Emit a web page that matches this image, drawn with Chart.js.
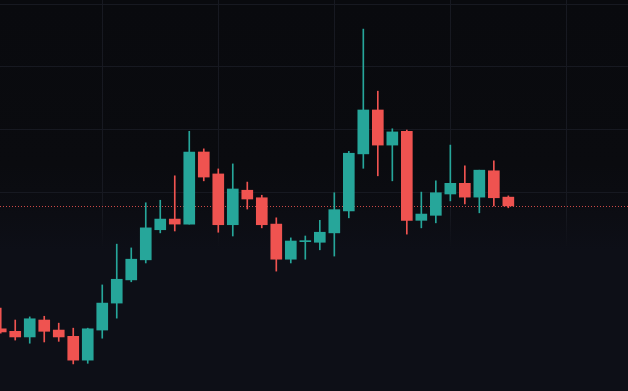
<!DOCTYPE html>
<html>
<head>
<meta charset="utf-8">
<script src="https://cdn.jsdelivr.net/npm/chart.js@4.4.1/dist/chart.umd.min.js"></script>
<style>
  html, body { margin: 0; padding: 0; }
  body {
    width: 628px;
    height: 391px;
    overflow: hidden;
    background: linear-gradient(to bottom, #090a0e 0%, #0a0b0f 42%, #0c0d13 55%, #0d0f17 64%, #0d0f17 100%);
  }
  .chart-container { position: relative; width: 628px; height: 391px; }
</style>
</head>
<body>
<div class="chart-container"><canvas id="chart"></canvas></div>
<script>
// candle data, one entry per bar
const opens  = [108.2, 107.8, 106.9, 109.6, 108.0, 107.0, 103.2, 108.0, 112.3, 116.0,
                119.2, 124.0, 125.7, 124.9, 136.4, 132.9, 124.8, 130.3, 129.1, 124.9,
                119.3, 122.1, 122.0, 123.5, 127.0, 136.1, 143.1, 137.5, 139.7, 125.5,
                126.3, 129.7, 131.4, 129.2, 133.4, 129.2];
const highs  = [111.5, 109.6, 110.1, 110.2, 109.1, 108.3, 108.3, 115.2, 121.7, 121.1,
                128.3, 128.7, 132.6, 139.7, 136.9, 133.7, 134.5, 131.6, 129.5, 125.9,
                122.7, 123.0, 125.5, 129.9, 136.5, 156.0, 146.1, 140.1, 139.9, 130.0,
                131.8, 137.5, 134.2, 133.5, 135.0, 129.4];
const lows   = [107.5, 106.4, 105.9, 106.1, 106.2, 102.6, 102.7, 106.7, 109.9, 115.7,
                118.7, 123.5, 123.8, 124.9, 131.8, 123.6, 123.0, 127.3, 124.3, 117.4,
                118.7, 119.3, 120.8, 119.8, 125.9, 133.8, 132.6, 131.8, 123.3, 124.3,
                125.1, 128.6, 128.1, 126.7, 127.8, 127.5];
const closes = [107.7, 106.9, 109.8, 107.8, 106.9, 103.2, 108.2, 112.3, 116.1, 119.3,
                124.3, 125.7, 124.9, 136.4, 132.4, 124.8, 130.5, 128.9, 124.8, 119.3,
                122.2, 122.2, 123.6, 127.2, 136.2, 143.1, 137.5, 139.6, 125.5, 126.5,
                129.9, 131.4, 129.2, 133.5, 129.1, 127.8];

const xGridTicks = [7, 15, 23, 31, 39];
const yGridTicks = [130, 140, 150, 160];

const UP = '#26a69a';
const DOWN = '#ef5350';

const candleColors = opens.map((o, i) => (closes[i] >= o ? UP : DOWN));

const lastPriceLine = {
  id: 'lastPriceLine',
  beforeDatasetsDraw(chart) {
    const { ctx, chartArea, scales } = chart;
    const y = Math.round(scales.y.getPixelForValue(closes[closes.length - 1])) + 0.5;
    ctx.save();
    ctx.strokeStyle = 'rgba(239, 83, 80, 0.85)';
    ctx.lineWidth = 1;
    ctx.setLineDash([1, 2]);
    ctx.beginPath();
    ctx.moveTo(chartArea.left, y);
    ctx.lineTo(chartArea.right, y);
    ctx.stroke();
    ctx.restore();
  },
};

const gridColor = '#171921';

// vertical grid fades out towards the lower part of the pane
function fadingGrid(ctx) {
  const chart = ctx.chart;
  const area = chart.chartArea;
  if (!area) return gridColor;
  const g = chart.ctx.createLinearGradient(0, area.top, 0, area.bottom);
  g.addColorStop(0, gridColor);
  g.addColorStop(0.55, gridColor);
  g.addColorStop(0.64, 'rgba(23, 25, 33, 0)');
  g.addColorStop(1, 'rgba(23, 25, 33, 0)');
  return g;
}

new Chart(document.getElementById('chart').getContext('2d'), {
  type: 'bar',
  data: {
    datasets: [
      {
        label: 'wick',
        data: opens.map((_, i) => ({ x: i, y: [lows[i], highs[i]] })),
        backgroundColor: candleColors,
        barThickness: 1,
        grouped: false,
        order: 2,
      },
      {
        label: 'body',
        data: opens.map((o, i) => ({ x: i, y: [o, closes[i]] })),
        backgroundColor: candleColors,
        barThickness: 11,
        minBarLength: 1,
        grouped: false,
        order: 1,
      },
    ],
  },
  options: {
    responsive: true,
    maintainAspectRatio: false,
    animation: false,
    layout: { padding: 0 },
    plugins: {
      legend: { display: false },
      tooltip: { enabled: false },
    },
    scales: {
      x: {
        type: 'linear',
        min: -0.05,
        max: 43.25,
        offset: false,
        afterBuildTicks: (scale) => { scale.ticks = xGridTicks.map(v => ({ value: v })); },
        grid: { color: fadingGrid, offset: false, drawTicks: false, tickLength: 0 },
        border: { display: false },
        ticks: { display: false },
      },
      y: {
        min: 98.28,
        max: 160.64,
        afterBuildTicks: (scale) => { scale.ticks = yGridTicks.map(v => ({ value: v })); },
        grid: { color: gridColor, drawTicks: false, tickLength: 0 },
        border: { display: false },
        ticks: { display: false },
      },
    },
  },
  plugins: [lastPriceLine],
});
</script>
</body>
</html>
